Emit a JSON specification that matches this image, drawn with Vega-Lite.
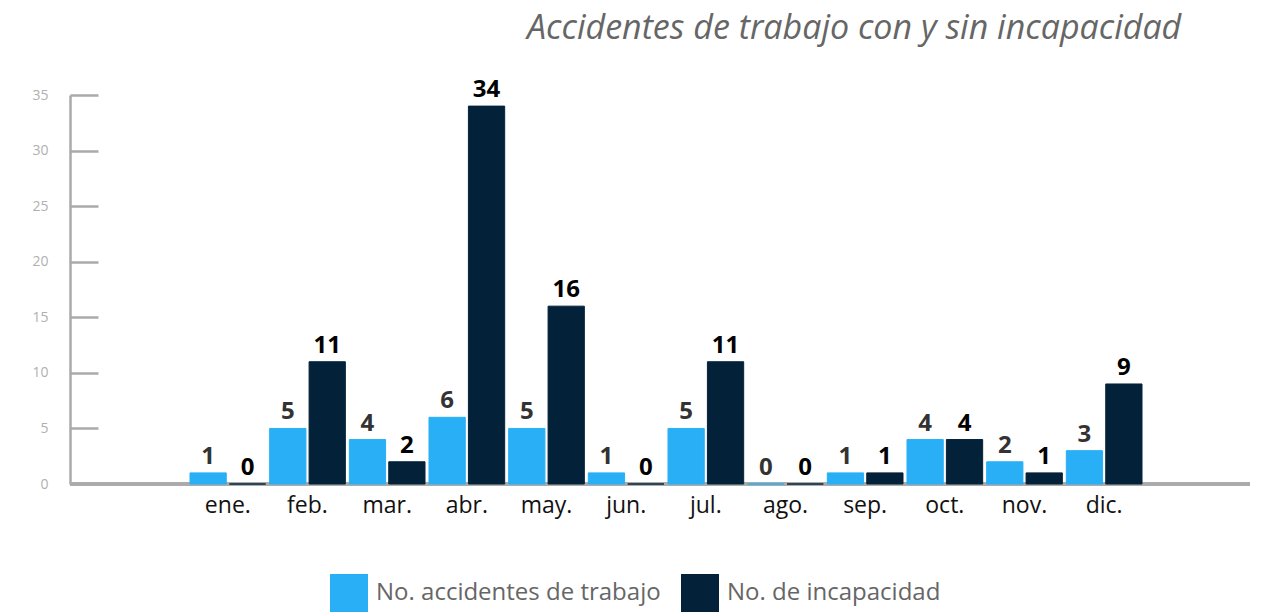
{
  "$schema": "https://vega.github.io/schema/vega-lite/v6.json",
  "autosize": {"type": "none"},
  "width": 1180,
  "height": 389,
  "padding": {"left": 70, "top": 95, "right": 37, "bottom": 130},
  "background": "white",
  "title": {
    "text": "Accidentes de trabajo con y sin incapacidad",
    "anchor": "end",
    "dx": -70,
    "offset": 32,
    "font": "Open Sans",
    "fontStyle": "italic",
    "fontWeight": "normal",
    "fontSize": 34,
    "color": "#666666"
  },
  "data": {
    "values": [
      {"mes": "ene.", "serie": "No. accidentes de trabajo", "valor": 1},
      {"mes": "feb.", "serie": "No. accidentes de trabajo", "valor": 5},
      {"mes": "mar.", "serie": "No. accidentes de trabajo", "valor": 4},
      {"mes": "abr.", "serie": "No. accidentes de trabajo", "valor": 6},
      {"mes": "may.", "serie": "No. accidentes de trabajo", "valor": 5},
      {"mes": "jun.", "serie": "No. accidentes de trabajo", "valor": 1},
      {"mes": "jul.", "serie": "No. accidentes de trabajo", "valor": 5},
      {"mes": "ago.", "serie": "No. accidentes de trabajo", "valor": 0},
      {"mes": "sep.", "serie": "No. accidentes de trabajo", "valor": 1},
      {"mes": "oct.", "serie": "No. accidentes de trabajo", "valor": 4},
      {"mes": "nov.", "serie": "No. accidentes de trabajo", "valor": 2},
      {"mes": "dic.", "serie": "No. accidentes de trabajo", "valor": 3},
      {"mes": "ene.", "serie": "No. de incapacidad", "valor": 0},
      {"mes": "feb.", "serie": "No. de incapacidad", "valor": 11},
      {"mes": "mar.", "serie": "No. de incapacidad", "valor": 2},
      {"mes": "abr.", "serie": "No. de incapacidad", "valor": 34},
      {"mes": "may.", "serie": "No. de incapacidad", "valor": 16},
      {"mes": "jun.", "serie": "No. de incapacidad", "valor": 0},
      {"mes": "jul.", "serie": "No. de incapacidad", "valor": 11},
      {"mes": "ago.", "serie": "No. de incapacidad", "valor": 0},
      {"mes": "sep.", "serie": "No. de incapacidad", "valor": 1},
      {"mes": "oct.", "serie": "No. de incapacidad", "valor": 4},
      {"mes": "nov.", "serie": "No. de incapacidad", "valor": 1},
      {"mes": "dic.", "serie": "No. de incapacidad", "valor": 9}
    ]
  },
  "layer": [
    {
      "mark": {"type": "rule", "color": "#aaaaaa", "strokeWidth": 2.5},
      "encoding": {
        "y": {
          "datum": 0,
          "type": "quantitative",
          "scale": {"domain": [0, 35], "nice": false},
          "axis": {
            "title": null,
            "values": [0, 5, 10, 15, 20, 25, 30, 35],
            "grid": false,
            "tickSize": -28,
            "tickColor": "#aaaaaa",
            "tickWidth": 2.5,
            "domainColor": "#aaaaaa",
            "domainWidth": 2.5,
            "labelFont": "Open Sans",
            "labelFontSize": 14,
            "labelColor": "#b0b0b0",
            "labelPadding": 50
          }
        }
      }
    },
    {
      "encoding": {
        "x": {
          "field": "mes",
          "type": "nominal",
          "sort": null,
          "scale": {"paddingInner": 0.05, "paddingOuter": 0, "range": [120, 1072]},
          "axis": {
            "title": null,
            "labelAngle": 0,
            "labelFont": "Open Sans",
            "labelFontSize": 23,
            "labelColor": "#111111",
            "labelPadding": 10,
            "ticks": false,
            "domain": false
          }
        },
        "xOffset": {
          "field": "serie",
          "type": "nominal",
          "sort": ["No. accidentes de trabajo", "No. de incapacidad"],
          "scale": {"paddingInner": 0.08}
        },
        "y": {
          "field": "valor",
          "type": "quantitative",
          "scale": {"domain": [0, 35], "nice": false},
          "axis": {
            "title": null,
            "values": [0, 5, 10, 15, 20, 25, 30, 35],
            "grid": false,
            "tickSize": -28,
            "tickColor": "#aaaaaa",
            "tickWidth": 2.5,
            "domainColor": "#aaaaaa",
            "domainWidth": 2.5,
            "labelFont": "Open Sans",
            "labelFontSize": 14,
            "labelColor": "#b0b0b0",
            "labelPadding": 50
          }
        }
      },
      "layer": [
        {
          "mark": {"type": "bar", "strokeWidth": 1},
          "encoding": {
            "color": {
              "field": "serie",
              "type": "nominal",
              "scale": {
                "domain": ["No. accidentes de trabajo", "No. de incapacidad"],
                "range": ["#29aff6", "#03223a"]
              },
              "legend": {
                "orient": "none",
                "legendX": 260,
                "legendY": 479,
                "direction": "horizontal",
                "title": null,
                "symbolType": "square",
                "symbolSize": 1444,
                "symbolStrokeWidth": 0,
                "labelFont": "Open Sans",
                "labelFontSize": 24,
                "labelColor": "#666666",
                "labelOffset": 8,
                "labelLimit": 400,
                "columnPadding": 20
              }
            },
            "stroke": {
              "field": "serie",
              "type": "nominal",
              "scale": {
                "domain": ["No. accidentes de trabajo", "No. de incapacidad"],
                "range": ["#29aff6", "#03223a"]
              },
              "legend": null
            }
          }
        },
        {
          "mark": {
            "type": "text",
            "baseline": "bottom",
            "dy": -4,
            "font": "Open Sans",
            "fontWeight": "bold",
            "fontSize": 24
          },
          "encoding": {
            "text": {"field": "valor", "type": "quantitative"},
            "color": {
              "field": "serie",
              "type": "nominal",
              "scale": {
                "domain": ["No. accidentes de trabajo", "No. de incapacidad"],
                "range": ["#333333", "#000000"]
              },
              "legend": null
            }
          }
        }
      ],
      "resolve": {"scale": {"color": "independent"}}
    }
  ],
  "config": {"view": {"stroke": null}}
}
